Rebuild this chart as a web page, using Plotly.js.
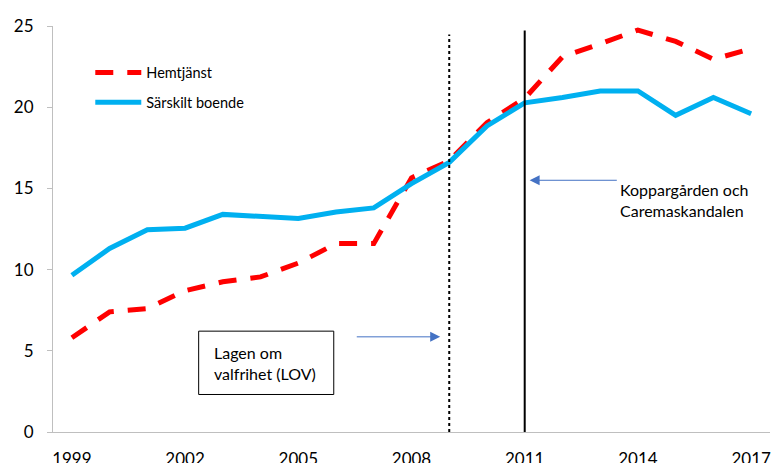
<!DOCTYPE html>
<html>
<head>
<meta charset="utf-8">
<script src="https://cdn.plot.ly/plotly-3.0.1.min.js"></script>
<style>html,body{margin:0;padding:0;background:#fff;}#chart{width:771px;height:463px;}</style>
</head>
<body>
<div id="chart"></div>
<script>
const years = [1999,2000,2001,2002,2003,2004,2005,2006,2007,2008,2009,2010,2011,2012,2013,2014,2015,2016,2017];
const hemtjanst = [5.8,7.4,7.6,8.7,9.25,9.55,10.4,11.6,11.6,15.65,16.7,19.05,20.55,23.1,23.9,24.75,24.05,22.95,23.6];
const sarskiltBoende = [9.65,11.3,12.45,12.55,13.4,13.3,13.15,13.55,13.8,15.3,16.6,18.85,20.27,20.6,21.0,21.0,19.5,20.6,19.6];
const tickLabels = ["1999","2002","2005","2008","2011","2014","2017"];
const seriesNames = ["Hemtjänst","Särskilt boende"];

const FONT = "Lato, 'Open Sans', sans-serif";
const labelPos = tickLabels.map(t => Number(t));
const tickMarkPos = tickLabels.map(t => Number(t) - 0.5);

const traces = [
  {x: years, y: hemtjanst, name: seriesNames[0], type: 'scatter', mode: 'lines',
   line: {color: '#FF0000', width: 5, dash: '18px,14px'}, legendgroup: 'a'},
  {x: years, y: sarskiltBoende, name: seriesNames[1], type: 'scatter', mode: 'lines',
   line: {color: '#00B0F0', width: 5}, legendgroup: 'b'}
];

const layout = {
  width: 771, height: 463,
  margin: {l: 53, r: 1, t: 26, b: 31},
  paper_bgcolor: '#fff', plot_bgcolor: '#fff',
  font: {family: FONT, color: '#000'},
  showlegend: true,
  legend: {x: 0.052, y: 0.925, xanchor: 'left', yanchor: 'top', font: {size: 14.5, family: FONT},
           bgcolor: 'rgba(0,0,0,0)', tracegroupgap: 8, traceorder: 'grouped', itemwidth: 46},
  xaxis: {
    range: [1998.5, 2017.5], tickmode: 'array', tickvals: labelPos, ticktext: tickLabels,
    ticks: '', ticklabelstandoff: 12,
    showline: true, linecolor: '#BFBFBF', linewidth: 1, showgrid: false, zeroline: false,
    tickfont: {size: 17, family: FONT, color: '#000'}
  },
  xaxis2: {
    overlaying: 'x', anchor: 'y', side: 'bottom',
    range: [1998.5, 2017.5], tickmode: 'array', tickvals: tickMarkPos,
    ticks: 'outside', ticklen: 5, tickcolor: '#BFBFBF', tickwidth: 1,
    showticklabels: false, showline: false, showgrid: false, zeroline: false
  },
  yaxis: {
    range: [0, 25], tickmode: 'array', tickvals: [0,5,10,15,20,25],
    ticks: 'outside', ticklen: 5, tickcolor: '#BFBFBF', tickwidth: 1,
    ticklabelstandoff: 10,
    showline: true, linecolor: '#BFBFBF', linewidth: 1, showgrid: false, zeroline: false,
    tickfont: {size: 17, family: FONT, color: '#000'}
  },
  shapes: [
    {type: 'line', xref: 'x', yref: 'y', x0: 2009, x1: 2009, y0: 0, y1: 24.48,
     line: {color: '#000', width: 2, dash: 'dot'}, layer: 'above'},
    {type: 'line', xref: 'x', yref: 'y', x0: 2011, x1: 2011, y0: 0, y1: 24.72,
     line: {color: '#000', width: 2}, layer: 'above'},
    {type: 'rect', xref: 'x', yref: 'y', x0: 2002.36, x1: 2005.94, y0: 2.31, y1: 6.21,
     line: {color: '#000', width: 1}, fillcolor: '#fff', layer: 'above'}
  ],
  annotations: [
    {xref: 'x', yref: 'y', x: 2002.71, y: 4.22, xanchor: 'left', yanchor: 'middle', align: 'left',
     text: 'Lagen om<br>valfrihet (LOV)', showarrow: false, font: {size: 16, family: FONT, color: '#000'}},
    {xref: 'x', yref: 'y', x: 2013.48, y: 14.27, xanchor: 'left', yanchor: 'middle', align: 'left',
     text: 'Koppargården och<br>Caremaskandalen', showarrow: false, font: {size: 16, family: FONT, color: '#000'}},
    {xref: 'x', yref: 'y', x: 2008.76, y: 5.86, axref: 'x', ayref: 'y', ax: 2006.51, ay: 5.86,
     text: '', showarrow: true, arrowhead: 2, arrowsize: 2, arrowwidth: 1, arrowcolor: '#4472C4', standoff: 0},
    {xref: 'x', yref: 'y', x: 2011.13, y: 15.50, axref: 'x', ayref: 'y', ax: 2013.48, ay: 15.50,
     text: '', showarrow: true, arrowhead: 2, arrowsize: 2, arrowwidth: 1, arrowcolor: '#4472C4', standoff: 0}
  ]
};

Plotly.newPlot('chart', traces, layout, {displayModeBar: false, staticPlot: true});
</script>
</body>
</html>
